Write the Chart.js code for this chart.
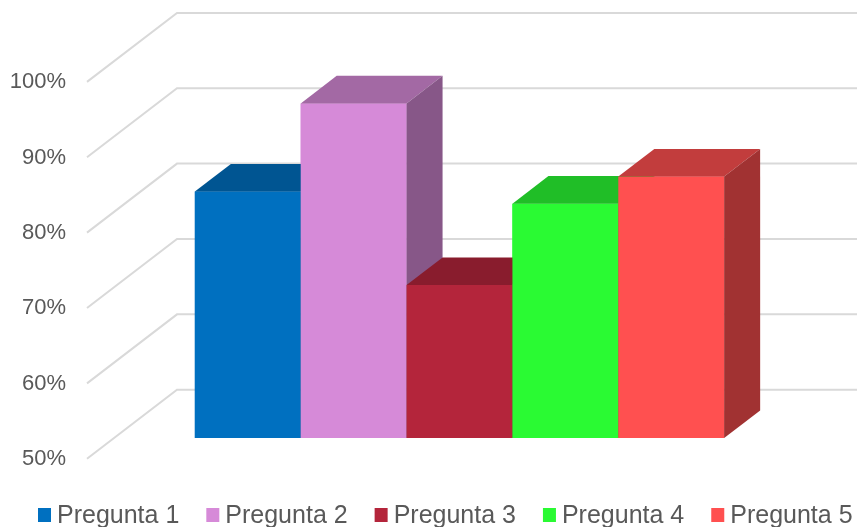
<!DOCTYPE html>
<html>
<head>
<meta charset="utf-8">
<script src="https://cdn.jsdelivr.net/npm/chart.js@4.4.1/dist/chart.umd.min.js"></script>
<style>
  html, body { margin: 0; padding: 0; background: #fff; }
  #wrap { width: 857px; height: 527px; }
</style>
</head>
<body>
<div id="wrap"><canvas id="chart"></canvas></div>
<script>
// Chart data
const categories = [''];
const seriesNames = ['Pregunta 1', 'Pregunta 2', 'Pregunta 3', 'Pregunta 4', 'Pregunta 5'];
const seriesValues = [82.7, 94.4, 70.3, 81.1, 84.7];
const yTicks = [50, 60, 70, 80, 90, 100];

// Styles
const frontColors = ['#0070C0', '#D68AD8', '#B4253B', '#2AFA33', '#FF5050'];
const textColor = '#595959';
const fontFamily = '"Liberation Sans", Arial, sans-serif';

// Oblique 3D look: full floor depth, bar slab position inside it
const depth = { x: 90, y: -69 };
const barFront = 0.3;
const barDepth = 0.4;

function shade(hex, f) {
    const n = parseInt(hex.slice(1), 16);
    const r = Math.round(((n >> 16) & 255) * f);
    const g = Math.round(((n >> 8) & 255) * f);
    const b = Math.round((n & 255) * f);
    return 'rgb(' + r + ',' + g + ',' + b + ')';
}

// Back wall gridlines with the diagonal going to the front edge
const wall3d = {
    id: 'wall3d',
    beforeDatasetsDraw(chart) {
        const { ctx, chartArea, scales } = chart;
        const y = scales.y;
        const fx = -barFront * depth.x, fy = -barFront * depth.y;
        const bx = (1 - barFront) * depth.x, by = (1 - barFront) * depth.y;
        ctx.save();
        ctx.strokeStyle = '#d9d9d9';
        ctx.lineWidth = 2;
        y.ticks.forEach(function(t) {
            const py = y.getPixelForValue(t.value);
            ctx.beginPath();
            ctx.moveTo(chartArea.left + fx, py + fy);
            ctx.lineTo(chartArea.left + bx, py + by);
            ctx.lineTo(chartArea.right + bx, py + by);
            ctx.stroke();
        });
        ctx.restore();
    }
};

// Top and side faces, painted left to right so neighbours overlap right
const bars3d = {
    id: 'bars3d',
    afterDatasetsDraw(chart) {
        const ctx = chart.ctx;
        const dx = barDepth * depth.x, dy = barDepth * depth.y;
        const bars = [];
        chart.data.datasets.forEach(function(ds, i) {
            chart.getDatasetMeta(i).data.forEach(function(el) {
                bars.push({ el: el, color: ds.backgroundColor });
            });
        });
        bars.sort(function(a, b) { return a.el.x - b.el.x; });
        ctx.save();
        bars.forEach(function(bar) {
            const p = bar.el.getProps(['x', 'y', 'base', 'width'], true);
            const l = p.x - p.width / 2, r = p.x + p.width / 2;
            bar.el.draw(ctx);
            ctx.fillStyle = shade(bar.color, 0.76);
            ctx.beginPath();
            ctx.moveTo(l, p.y);
            ctx.lineTo(r, p.y);
            ctx.lineTo(r + dx, p.y + dy);
            ctx.lineTo(l + dx, p.y + dy);
            ctx.closePath();
            ctx.fill();
            ctx.fillStyle = shade(bar.color, 0.63);
            ctx.beginPath();
            ctx.moveTo(r, p.y);
            ctx.lineTo(r + dx, p.y + dy);
            ctx.lineTo(r + dx, p.base + dy);
            ctx.lineTo(r, p.base);
            ctx.closePath();
            ctx.fill();
        });
        ctx.restore();
    }
};

// Legend row that runs off the right edge like the original
const legendRow = {
    id: 'legendRow',
    afterDraw(chart) {
        const ctx = chart.ctx;
        ctx.save();
        ctx.font = '25px ' + fontFamily;
        ctx.textBaseline = 'alphabetic';
        ctx.textAlign = 'left';
        let x = 38;
        chart.data.datasets.forEach(function(ds) {
            ctx.fillStyle = ds.backgroundColor;
            ctx.fillRect(x, 508, 13, 14);
            ctx.fillStyle = textColor;
            ctx.fillText(ds.label, x + 19, 523);
            x += 19 + ctx.measureText(ds.label).width + 27;
        });
        ctx.restore();
    }
};

new Chart(document.getElementById('chart'), {
    type: 'bar',
    data: {
        labels: categories,
        datasets: seriesNames.map(function(name, i) {
            return {
                label: name,
                data: [seriesValues[i]],
                base: yTicks[0],
                backgroundColor: frontColors[i],
                borderWidth: 0,
                barPercentage: 1,
                categoryPercentage: 0.766
            };
        })
    },
    options: {
        responsive: true,
        maintainAspectRatio: false,
        animation: false,
        layout: {
            padding: { top: 61, right: 52, bottom: 89, left: 0 }
        },
        plugins: {
            legend: { display: false },
            tooltip: { enabled: false }
        },
        scales: {
            x: { display: false },
            y: {
                min: yTicks[0],
                max: yTicks[yTicks.length - 1],
                afterFit: function(scale) { scale.width = 114; },
                grid: { display: false, drawTicks: false },
                border: { display: false },
                ticks: {
                    stepSize: yTicks[1] - yTicks[0],
                    padding: 48,
                    labelOffset: 21,
                    color: textColor,
                    font: { family: fontFamily, size: 22 },
                    callback: function(v) { return v + '%'; }
                }
            }
        }
    },
    plugins: [wall3d, bars3d, legendRow]
});
</script>
</body>
</html>
